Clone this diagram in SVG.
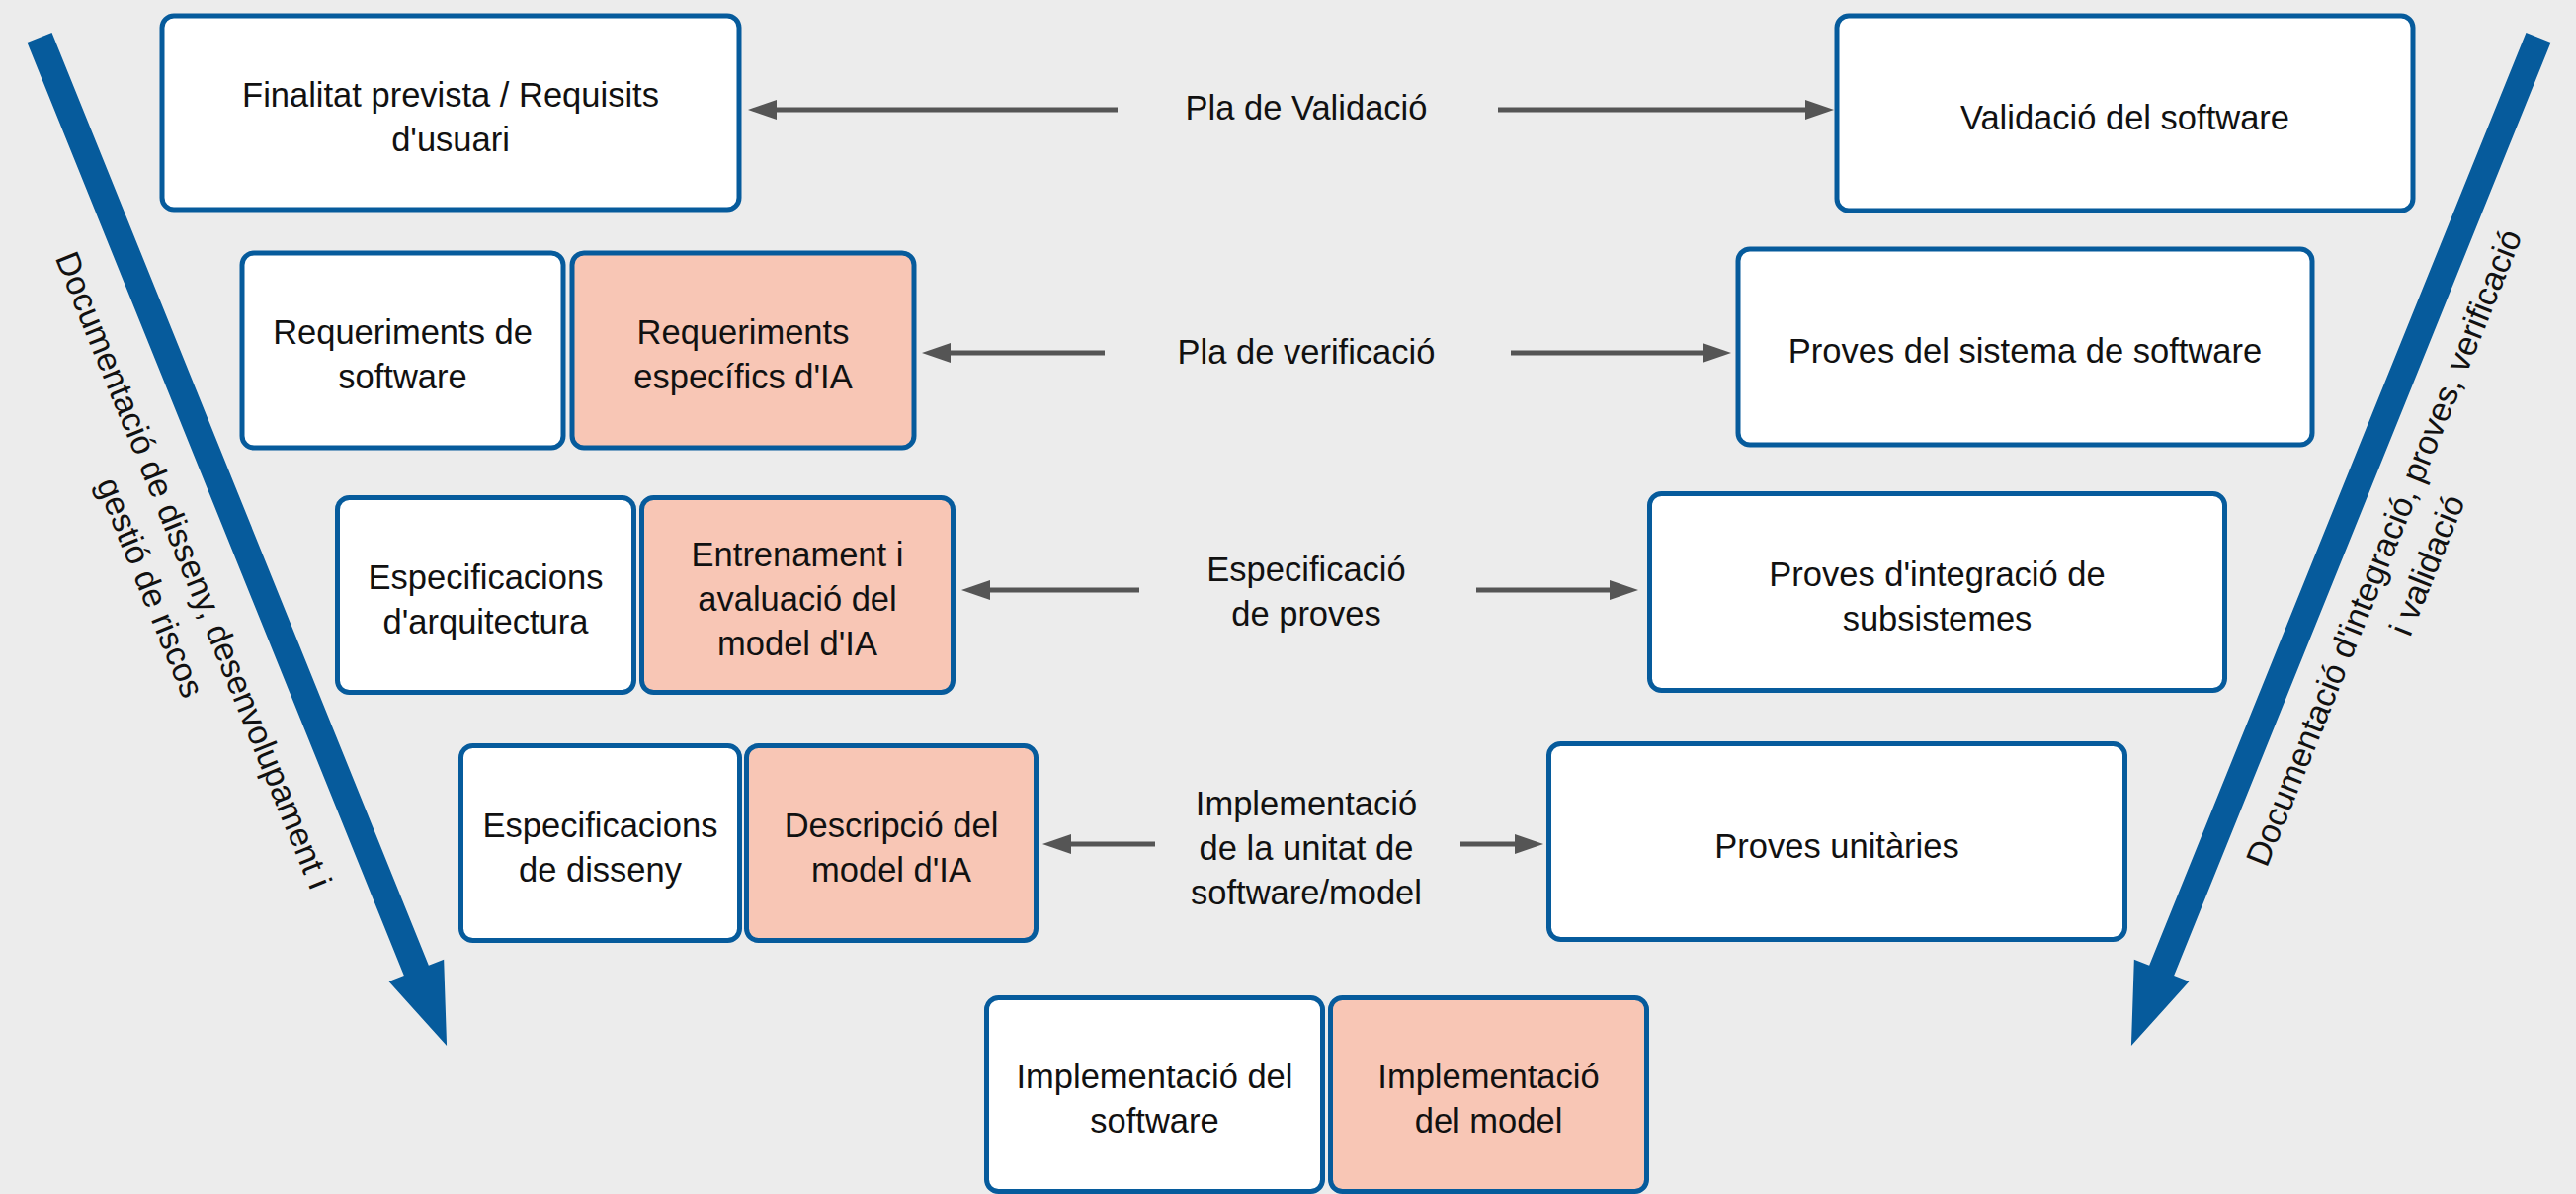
<svg xmlns="http://www.w3.org/2000/svg" xmlns:xlink="http://www.w3.org/1999/xlink" width="2607" height="1208" viewBox="0 0 2607 1208">
  <style>
    .box { stroke: #065b9c; stroke-width: 5; }
    .sw { fill: #ffffff; }
    .ai { fill: #f8c6b5; }
    .t { font-family: "Liberation Sans", Arial, sans-serif; font-size: 34.5px; fill: #111111; text-anchor: middle; }
    .rt { font-family: "Liberation Sans", Arial, sans-serif; font-size: 34px; fill: #111111; text-anchor: middle; }
    .conn { stroke: #555555; stroke-width: 5; fill: none; marker-end: url(#head); }
    .big { fill: #065b9c; }
  </style>
  <defs>
    <marker id="head" markerUnits="userSpaceOnUse" markerWidth="30" markerHeight="20" viewBox="0 0 30 20" refX="1" refY="10" orient="auto">
      <path d="M0,0 L29,10 L0,20 Z" fill="#555555"/>
    </marker>
    <!-- broad process arrow, drawn along +x from its tail -->
    <path id="bigArrow" d="M0,-13.5 L1018,-13.5 L1018,-30 L1100,0 L1018,30 L1018,13.5 L0,13.5 Z"/>
  </defs>

  <rect width="2607" height="1208" fill="#ececec"/>

  <!-- side process arrows and their captions -->
  <g id="flow-left">
    <use xlink:href="#bigArrow" class="big" transform="translate(40,38) rotate(68)"/>
    <g transform="translate(40,38) rotate(68)">
      <text class="rt" x="558" y="69">Documentació de disseny, desenvolupament i</text>
      <text class="rt" x="558" y="116">gestió de riscos</text>
    </g>
  </g>
  <g id="flow-right">
    <use xlink:href="#bigArrow" class="big" transform="translate(2569,38) rotate(112)"/>
    <g transform="translate(2569,38) rotate(-68)">
      <text class="rt" x="-537" y="60">Documentació d'integració, proves, verificació</text>
      <text class="rt" x="-537" y="107">i validació</text>
    </g>
  </g>

  <!-- left branch -->
  <g id="n-finalitat">
    <rect class="box sw" x="164" y="16" width="584" height="196" rx="12"/>
    <text class="t" x="456" y="107.5">Finalitat prevista / Requisits</text>
    <text class="t" x="456" y="152.5">d'usuari</text>
  </g>
  <g id="n-req-sw">
    <rect class="box sw" x="245" y="256" width="325" height="197" rx="12"/>
    <text class="t" x="407.5" y="348">Requeriments de</text>
    <text class="t" x="407.5" y="393">software</text>
  </g>
  <g id="n-req-ia">
    <rect class="box ai" x="579" y="256" width="346" height="197" rx="12"/>
    <text class="t" x="752" y="348">Requeriments</text>
    <text class="t" x="752" y="393">específics d'IA</text>
  </g>
  <g id="n-arq">
    <rect class="box sw" x="341.5" y="503.5" width="300" height="197" rx="12"/>
    <text class="t" x="491.5" y="595.5">Especificacions</text>
    <text class="t" x="491.5" y="640.5">d'arquitectura</text>
  </g>
  <g id="n-entrenament">
    <rect class="box ai" x="649.5" y="503.5" width="315" height="197" rx="12"/>
    <text class="t" x="807" y="573">Entrenament i</text>
    <text class="t" x="807" y="618">avaluació del</text>
    <text class="t" x="807" y="663">model d'IA</text>
  </g>
  <g id="n-disseny">
    <rect class="box sw" x="466.5" y="754.5" width="282" height="197" rx="12"/>
    <text class="t" x="607.5" y="846.5">Especificacions</text>
    <text class="t" x="607.5" y="891.5">de disseny</text>
  </g>
  <g id="n-descripcio">
    <rect class="box ai" x="755.5" y="754.5" width="293" height="197" rx="12"/>
    <text class="t" x="902" y="846.5">Descripció del</text>
    <text class="t" x="902" y="891.5">model d'IA</text>
  </g>

  <!-- base of the V -->
  <g id="n-impl-sw">
    <rect class="box sw" x="998.5" y="1009.5" width="340" height="196" rx="12"/>
    <text class="t" x="1168.5" y="1101">Implementació del</text>
    <text class="t" x="1168.5" y="1146">software</text>
  </g>
  <g id="n-impl-model">
    <rect class="box ai" x="1346.5" y="1009.5" width="320" height="196" rx="12"/>
    <text class="t" x="1506.5" y="1101">Implementació</text>
    <text class="t" x="1506.5" y="1146">del model</text>
  </g>

  <!-- right branch -->
  <g id="n-validacio">
    <rect class="box sw" x="1859" y="16" width="583" height="197" rx="12"/>
    <text class="t" x="2150.5" y="131">Validació del software</text>
  </g>
  <g id="n-sistema">
    <rect class="box sw" x="1759" y="252" width="581" height="198" rx="12"/>
    <text class="t" x="2049.5" y="367">Proves del sistema de software</text>
  </g>
  <g id="n-integracio">
    <rect class="box sw" x="1669.5" y="499.5" width="582" height="199" rx="12"/>
    <text class="t" x="1960.5" y="592.5">Proves d'integració de</text>
    <text class="t" x="1960.5" y="637.5">subsistemes</text>
  </g>
  <g id="n-unitaries">
    <rect class="box sw" x="1567.5" y="752.5" width="583" height="198" rx="12"/>
    <text class="t" x="1859" y="868">Proves unitàries</text>
  </g>

  <!-- plans linking each design level with its test level -->
  <g id="connectors">
    <line class="conn" x1="1131" y1="111" x2="785" y2="111"/>
    <line class="conn" x1="1516" y1="111" x2="1828" y2="111"/>
    <line class="conn" x1="1118" y1="357" x2="961" y2="357"/>
    <line class="conn" x1="1529" y1="357" x2="1724" y2="357"/>
    <line class="conn" x1="1153" y1="597" x2="1001" y2="597"/>
    <line class="conn" x1="1494" y1="597" x2="1630" y2="597"/>
    <line class="conn" x1="1169" y1="854" x2="1083" y2="854"/>
    <line class="conn" x1="1478" y1="854" x2="1534" y2="854"/>
  </g>

  <g id="labels">
    <text class="t" x="1322" y="121">Pla de Validació</text>
    <text class="t" x="1322" y="368">Pla de verificació</text>
    <text class="t" x="1322" y="588">Especificació</text>
    <text class="t" x="1322" y="633">de proves</text>
    <text class="t" x="1322" y="825">Implementació</text>
    <text class="t" x="1322" y="870">de la unitat de</text>
    <text class="t" x="1322" y="915">software/model</text>
  </g>
</svg>
